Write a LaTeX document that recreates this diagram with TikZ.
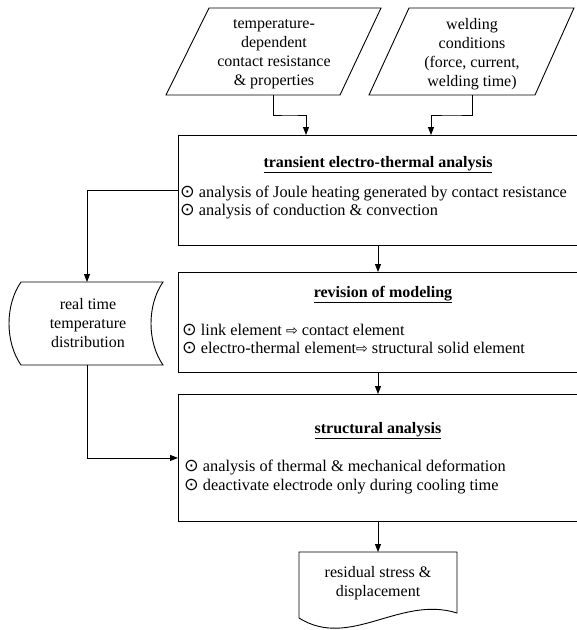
\documentclass[tikz,border=0pt]{standalone}
\usepackage{fontspec}
\setmainfont{Liberation Serif}
\newfontfamily\symf{DejaVu Sans}
\usetikzlibrary{arrows.meta,calc}
\newcommand{\bul}{{\symf\fontsize{17.5}{17.5}\selectfont ⊙}\ }
\newcommand{\rarr}{{\symf\fontsize{14}{14}\selectfont ⇨}}
\begin{document}
\begin{tikzpicture}[x=1pt,y=-1pt,
  shp/.style={draw, line width=0.9pt},
  box/.style={draw, line width=0.9pt, rectangle, anchor=north west, inner sep=0pt},
  txt/.style={font=\fontsize{16}{19}\selectfont, align=center, inner sep=0pt},
  ln/.style={font=\fontsize{16.3}{18}\selectfont, anchor=base west, inner sep=0pt},
  ttl/.style={font=\fontsize{16}{19}\selectfont\bfseries, anchor=base, inner sep=0pt},
  arr/.style={line width=0.9pt, -{Triangle[length=8pt,width=6pt]}}]
\useasboundingbox (0,0) rectangle (577,630);
\fill[white] (0,0) rectangle (577,630);

% input parallelograms
\draw[shp] (209,8) -- (381,8) -- (340,95) -- (166,95) -- cycle;
\node[txt] (p1) at (274,54) {temperature-\\dependent\\contact resistance\\\& properties};
\draw[shp] (409,8) -- (574,8) -- (535,95) -- (369,95) -- cycle;
\node[txt] (p2) at (472,54) {welding\\conditions\\(force, current,\\welding time)};

% process boxes
\node[box, minimum width=398.5pt, minimum height=110pt] (b1) at (178,135) {};
\node[ttl] (b1t) at (378,167) {\underline{transient electro-thermal analysis}};
\node[ln] (b1a) at (180,197) {\bul analysis of Joule heating generated by contact resistance};
\node[ln] (b1b) at (180,215) {\bul analysis of conduction \& convection};

\node[box, minimum width=398.5pt, minimum height=100pt] (b2) at (178,272) {};
\node[ttl] (b2t) at (383,297) {\underline{revision of modeling}};
\node[ln] (b2a) at (182,335) {\bul link element \rarr\ contact element};
\node[ln] (b2b) at (182,353) {\bul electro-thermal element\rarr\ structural solid element};

\node[box, minimum width=398.5pt, minimum height=127pt] (b3) at (178,394) {};
\node[ttl] (b3t) at (378,433) {\underline{structural analysis}};
\node[ln] (b3a) at (184,471) {\bul analysis of thermal \& mechanical deformation};
\node[ln] (b3b) at (184,490) {\bul deactivate electrode only during cooling time};

% stored data
\draw[shp] (21,282) -- (163,282) .. controls (147,305) and (147,342) .. (163,365)
  -- (21,365) .. controls (5,342) and (5,305) .. (21,282) -- cycle;
\node[txt] (st) at (88,323) {real time\\temperature\\distribution};

% document
\draw[shp] (299,552) -- (457,552) -- (457,613) .. controls (400,595) and (350,650) .. (299,618) -- cycle;
\node[txt] (dc) at (378,583) {residual stress \&\\displacement};

% connector points
\coordinate (mx) at (378,0);
\coordinate (p1b) at (273,95);
\coordinate (p2b) at (472,95);
\coordinate (in1) at (306,135);
\coordinate (in2) at (431,135);
\coordinate (stt) at (87,282);
\coordinate (stb) at (87,365);
\coordinate (dct) at (378,552);

\draw[arr] (p1b) |- ($(p1b)!0.5!(in1)$) -| (in1);
\draw[arr] (p2b) |- ($(p2b)!0.5!(in2)$) -| (in2);
\draw[arr] (b1.south -| mx) -- (b2.north -| mx);
\draw[arr] (b2.south -| mx) -- (b3.north -| mx);
\draw[arr] (b3.south -| mx) -- (dct);
\draw[arr] (b1.west) -| (stt);
\draw[arr] (stb) |- (b3.west);
\end{tikzpicture}
\end{document}
